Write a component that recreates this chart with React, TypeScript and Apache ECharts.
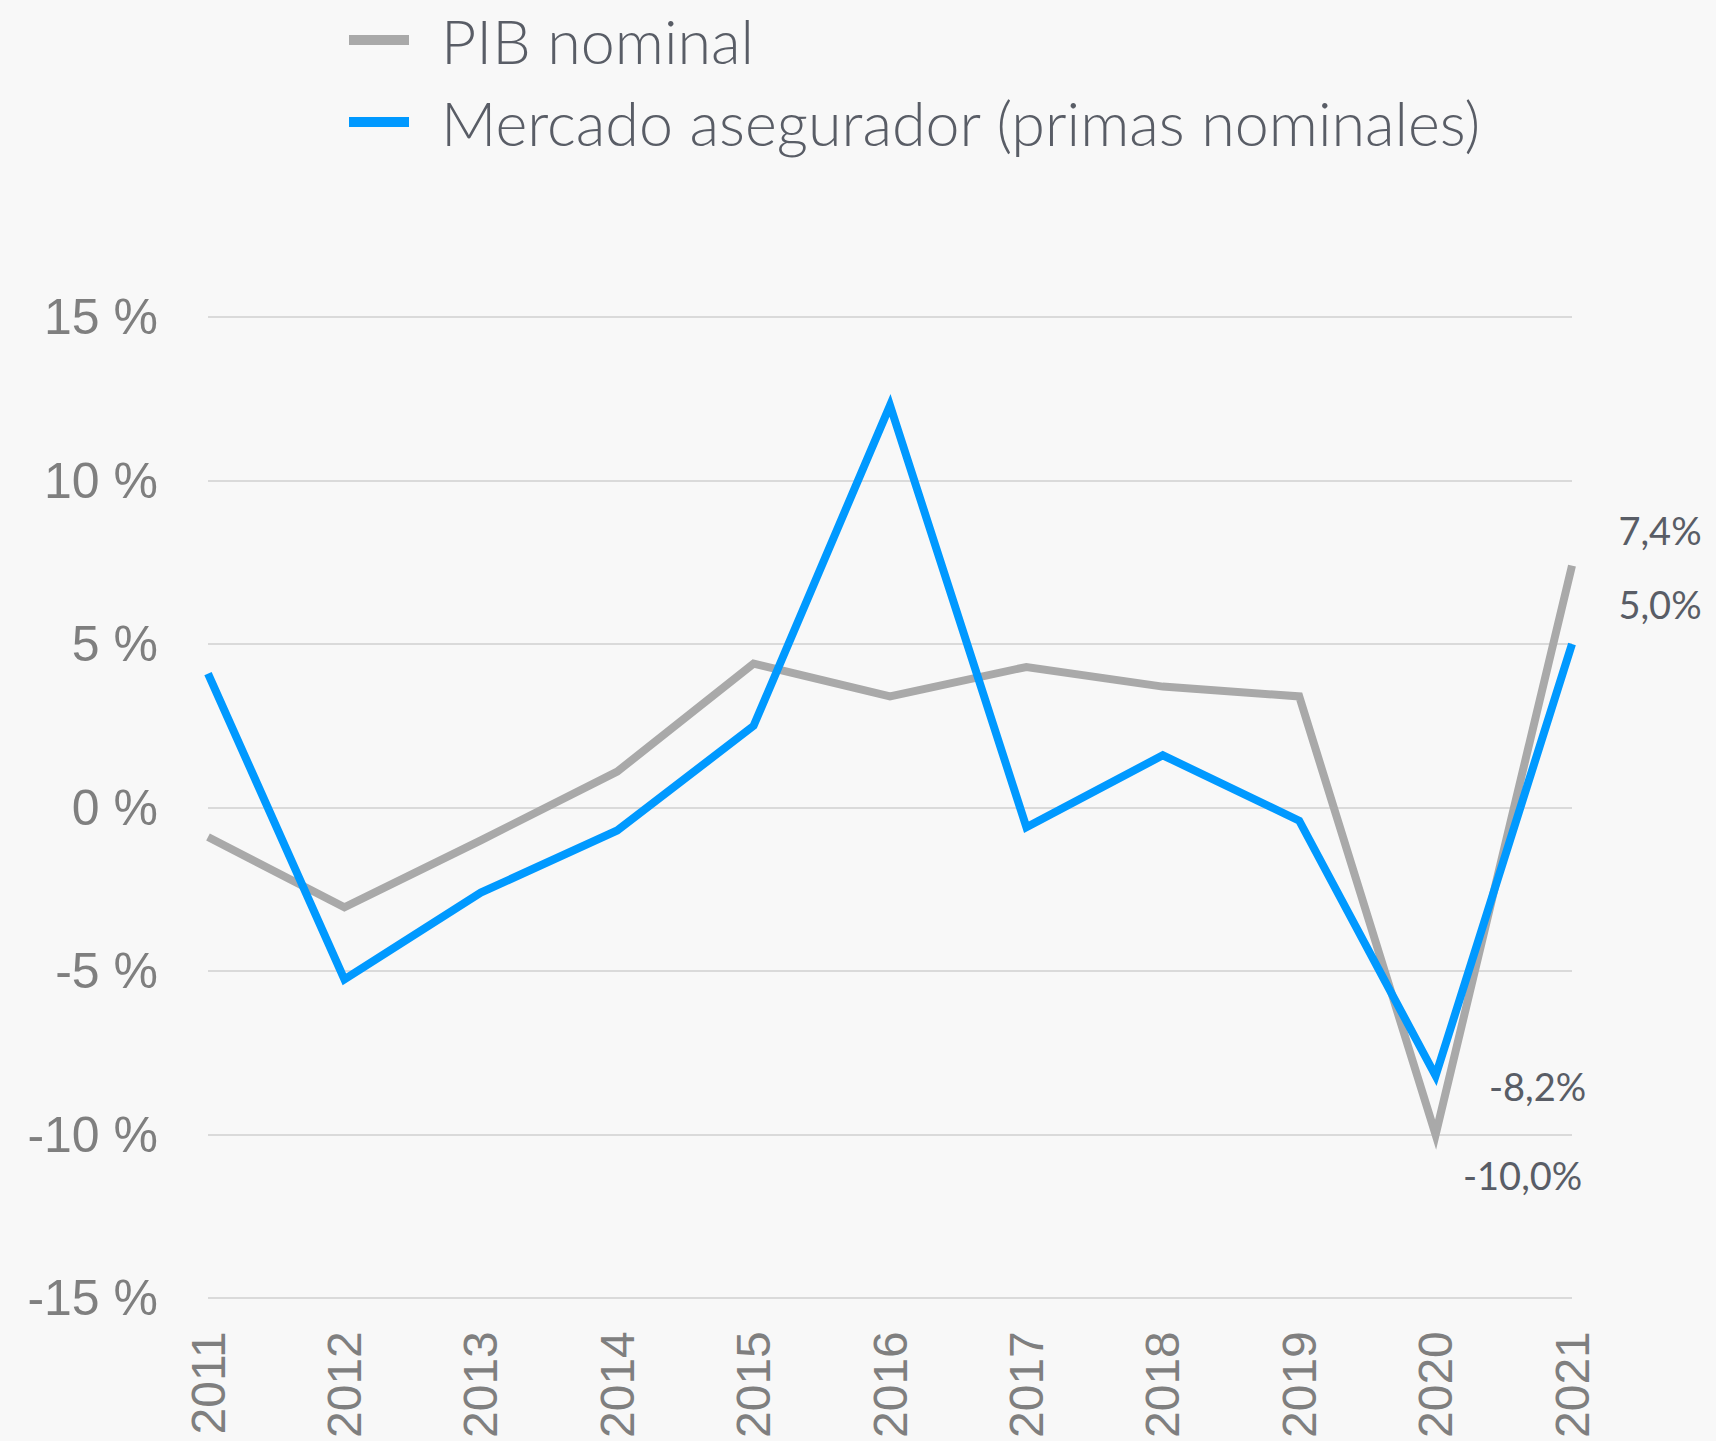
import React, { useEffect, useRef } from "react";
import * as echarts from "echarts";

const years = ["2011", "2012", "2013", "2014", "2015", "2016", "2017", "2018", "2019", "2020", "2021"];
const pibNominal = [-0.9, -3.05, -1.0, 1.1, 4.4, 3.4, 4.3, 3.7, 3.4, -10.0, 7.4];
const mercadoAsegurador = [4.1, -5.25, -2.6, -0.7, 2.5, 12.3, -0.6, 1.6, -0.4, -8.2, 5.0];
const seriesNames = ["PIB nominal", "Mercado asegurador (primas nominales)"];
const yMin = -15;
const yMax = 15;
const yInterval = 5;

const fmtPct = (v: number) => v.toFixed(1).replace(".", ",") + "%";

const labelStyle = {
  show: true,
  position: "inside" as const,
  color: "#595d66",
  fontSize: 38,
  fontFamily: "Lato",
  fontWeight: 400 as any,
  align: "center" as const,
  verticalAlign: "middle" as const,
  formatter: (p: any) => fmtPct(p.value),
};

function withLabels(values: number[], offsets: Record<number, [number, number]>) {
  return values.map((v, i) =>
    offsets[i] ? { value: v, label: { ...labelStyle, offset: offsets[i] } } : { value: v }
  );
}

export default function App() {
  const ref = useRef<HTMLDivElement>(null);
  useEffect(() => {
    document.body.style.margin = "0";
    document.body.style.background = "#f8f8f8";
    const chart = echarts.init(ref.current!, undefined, { renderer: "svg" });
    chart.setOption({
      animation: false,
      backgroundColor: "#f8f8f8",
      legend: {
        orient: "vertical",
        left: 344,
        top: 4,
        icon: "rect",
        itemWidth: 60,
        itemHeight: 10,
        itemGap: 20,
        data: seriesNames,
        textStyle: {
          fontSize: 61,
          lineHeight: 62,
          fontFamily: "Lato",
          fontWeight: 300 as any,
          color: "#595d66",
          padding: [0, 0, 0, 27],
        },
      },
      grid: { left: 208, right: 144, top: 317, bottom: 141 },
      xAxis: {
        type: "category",
        data: years,
        boundaryGap: false,
        axisLine: { show: false },
        axisTick: { show: false },
        axisLabel: {
          rotate: 90,
          margin: 33,
          fontSize: 48,
          color: "#7f7f7f",
          fontFamily: "Liberation Sans",
        },
      },
      yAxis: {
        type: "value",
        min: yMin,
        max: yMax,
        interval: yInterval,
        axisLine: { show: false },
        axisTick: { show: false },
        splitLine: { lineStyle: { color: "#d0d0d0", width: 1.5 } },
        axisLabel: {
          margin: 50,
          fontSize: 50,
          color: "#7f7f7f",
          fontFamily: "Liberation Sans",
          formatter: (v: number) => `${v} %`,
        },
      },
      series: [
        {
          name: seriesNames[0],
          type: "line",
          data: withLabels(pibNominal, { 9: [87, 40], 10: [88, -36] }),
          showSymbol: true,
          symbol: "circle",
          symbolSize: 0,
          lineStyle: { color: "#a9a9a9", width: 8, join: "miter" } as any,
          itemStyle: { color: "#a9a9a9" },
          z: 2,
        },
        {
          name: seriesNames[1],
          type: "line",
          data: withLabels(mercadoAsegurador, { 9: [102, 10], 10: [88, -40] }),
          showSymbol: true,
          symbol: "circle",
          symbolSize: 0,
          lineStyle: { color: "#0099ff", width: 8, join: "miter" } as any,
          itemStyle: { color: "#0099ff" },
          z: 3,
        },
      ],
    });
    return () => chart.dispose();
  }, []);
  return (
    <div
      ref={ref}
      style={{ position: "fixed", left: 0, top: 0, width: 1716, height: 1441, background: "#f8f8f8" }}
    />
  );
}
